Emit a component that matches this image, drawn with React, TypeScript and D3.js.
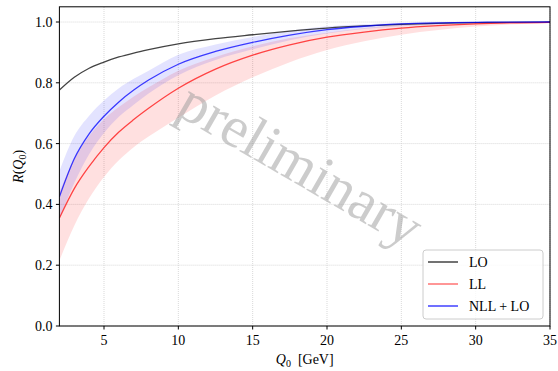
import React from "react";
import * as d3 from "d3";

// Q0 grid in GeV
const q0 = [2, 3, 4, 5, 6, 7, 8, 10, 12.5, 15, 17.5, 20, 22.5, 25, 30, 35];

// central curves
const lo = [0.776, 0.818, 0.848, 0.868, 0.885, 0.898, 0.909, 0.928, 0.945, 0.958, 0.97, 0.98, 0.987, 0.992, 0.998, 1.0];
const ll = [0.355, 0.452, 0.525, 0.587, 0.638, 0.679, 0.716, 0.782, 0.845, 0.891, 0.925, 0.95, 0.967, 0.98, 0.994, 0.999];
const nll = [0.425, 0.55, 0.632, 0.69, 0.737, 0.776, 0.809, 0.861, 0.903, 0.933, 0.957, 0.975, 0.986, 0.994, 0.999, 1.0];

// uncertainty bands
const llLow = [0.215, 0.33, 0.42, 0.49, 0.545, 0.588, 0.623, 0.685, 0.758, 0.818, 0.868, 0.908, 0.937, 0.958, 0.985, 0.997];
const llHigh = [0.44, 0.55, 0.625, 0.68, 0.72, 0.755, 0.785, 0.84, 0.885, 0.92, 0.947, 0.965, 0.98, 0.99, 0.998, 1.0];
const nllLow = [0.35, 0.47, 0.565, 0.635, 0.688, 0.728, 0.765, 0.825, 0.875, 0.91, 0.94, 0.962, 0.977, 0.986, 0.996, 0.999];
const nllHigh = [0.51, 0.625, 0.692, 0.742, 0.782, 0.813, 0.84, 0.892, 0.926, 0.951, 0.971, 0.986, 0.993, 0.997, 1.0, 1.0];

const xTicks = [5, 10, 15, 20, 25, 30, 35];
const yTicks = [0.0, 0.2, 0.4, 0.6, 0.8, 1.0];
const legendLabels = ["LO", "LL", "NLL + LO"];

const W = 558, H = 371;
const margin = { top: 6.8, right: 8, bottom: 45, left: 59.4 };
const FONT = "'Liberation Serif', 'DejaVu Serif', serif";

export default function App() {
  const x = d3.scaleLinear().domain([2, 35]).range([margin.left, W - margin.right]);
  const y = d3.scaleLinear().domain([0, 1.05]).range([H - margin.bottom, margin.top]);

  const line = (vals: number[]) =>
    d3.line<number>().x((_, i) => x(q0[i])).y(d => y(d)).curve(d3.curveMonotoneX)(vals) || "";
  const band = (lo_: number[], hi_: number[]) =>
    d3.area<number>()
      .x((_, i) => x(q0[i]))
      .y0((_, i) => y(lo_[i]))
      .y1((_, i) => y(hi_[i]))
      .curve(d3.curveMonotoneX)(q0) || "";

  const [x0, x1] = x.range();
  const [y0, y1] = y.range();

  const series = [
    { label: legendLabels[0], color: "#222", opacity: 0.85, vals: lo },
    { label: legendLabels[1], color: "#ff0000", opacity: 0.7, vals: ll },
    { label: legendLabels[2], color: "#0000ff", opacity: 0.75, vals: nll },
  ];

  return (
    <svg width={W} height={H} style={{ position: "absolute", left: 0, top: 0 }} fontFamily={FONT}>
      <rect width={W} height={H} fill="#fff" />
      <defs>
        <clipPath id="plot">
          <rect x={x0} y={y1} width={x1 - x0} height={y0 - y1} />
        </clipPath>
      </defs>

      {/* grid */}
      {xTicks.map(t => (
        <line key={"gx" + t} x1={x(t)} x2={x(t)} y1={y0} y2={y1} stroke="#cfcfcf" strokeWidth={0.8} strokeDasharray="1,1" />
      ))}
      {yTicks.map(t => (
        <line key={"gy" + t} x1={x0} x2={x1} y1={y(t)} y2={y(t)} stroke="#cfcfcf" strokeWidth={0.8} strokeDasharray="1,1" />
      ))}

      <g clipPath="url(#plot)">
        <path d={band(llLow, llHigh)} fill="#ff0000" fillOpacity={0.12} />
        <path d={band(nllLow, nllHigh)} fill="#0000ff" fillOpacity={0.11} />
        {series.map(s => (
          <path key={s.label} d={line(s.vals)} fill="none" stroke={s.color} strokeOpacity={s.opacity} strokeWidth={1.3} />
        ))}
      </g>

      {/* watermark */}
      <text
        transform="translate(300,166) rotate(30)"
        textAnchor="middle"
        dy="0.3em"
        fontSize={58}
        fill="#999"
        fillOpacity={0.5}
      >
        preliminary
      </text>

      {/* frame */}
      <rect x={x0} y={y1} width={x1 - x0} height={y0 - y1} fill="none" stroke="#000" strokeWidth={1} />

      {/* x axis */}
      {xTicks.map(t => (
        <g key={"xt" + t}>
          <line x1={x(t)} x2={x(t)} y1={y0} y2={y0 + 3.5} stroke="#000" />
          <text x={x(t)} y={y0 + 19} textAnchor="middle" fontSize={14}>{t}</text>
        </g>
      ))}
      {/* y axis */}
      {yTicks.map(t => (
        <g key={"yt" + t}>
          <line x1={x0 - 3.5} x2={x0} y1={y(t)} y2={y(t)} stroke="#000" />
          <text x={x0 - 7} y={y(t)} dy="0.35em" textAnchor="end" fontSize={14}>{t.toFixed(1)}</text>
        </g>
      ))}

      {/* axis labels */}
      <text x={(x0 + x1) / 2} y={364} textAnchor="middle" fontSize={14}>
        <tspan fontStyle="italic">Q</tspan>
        <tspan fontSize={10} dy={3}>0</tspan>
        <tspan dy={-3}>{"\u00a0\u00a0[GeV]"}</tspan>
      </text>
      <text transform={`translate(23,${(y0 + y1) / 2}) rotate(-90)`} textAnchor="middle" fontSize={14}>
        <tspan fontStyle="italic">R</tspan>
        <tspan>(</tspan>
        <tspan fontStyle="italic">Q</tspan>
        <tspan fontSize={10} dy={3}>0</tspan>
        <tspan dy={-3}>)</tspan>
      </text>

      {/* legend */}
      <g transform="translate(423,250)">
        <rect width={120} height={69} rx={3} fill="#fff" fillOpacity={0.8} stroke="#ccc" />
        {series.map((s, i) => (
          <g key={"lg" + s.label} transform={`translate(0,${12 + i * 22})`}>
            <line x1={5} x2={35} stroke={s.color} strokeOpacity={i === 1 ? 0.55 : s.opacity} strokeWidth={1.5} />
            <text x={46} dy="0.35em" fontSize={14}>{s.label}</text>
          </g>
        ))}
      </g>
    </svg>
  );
}
